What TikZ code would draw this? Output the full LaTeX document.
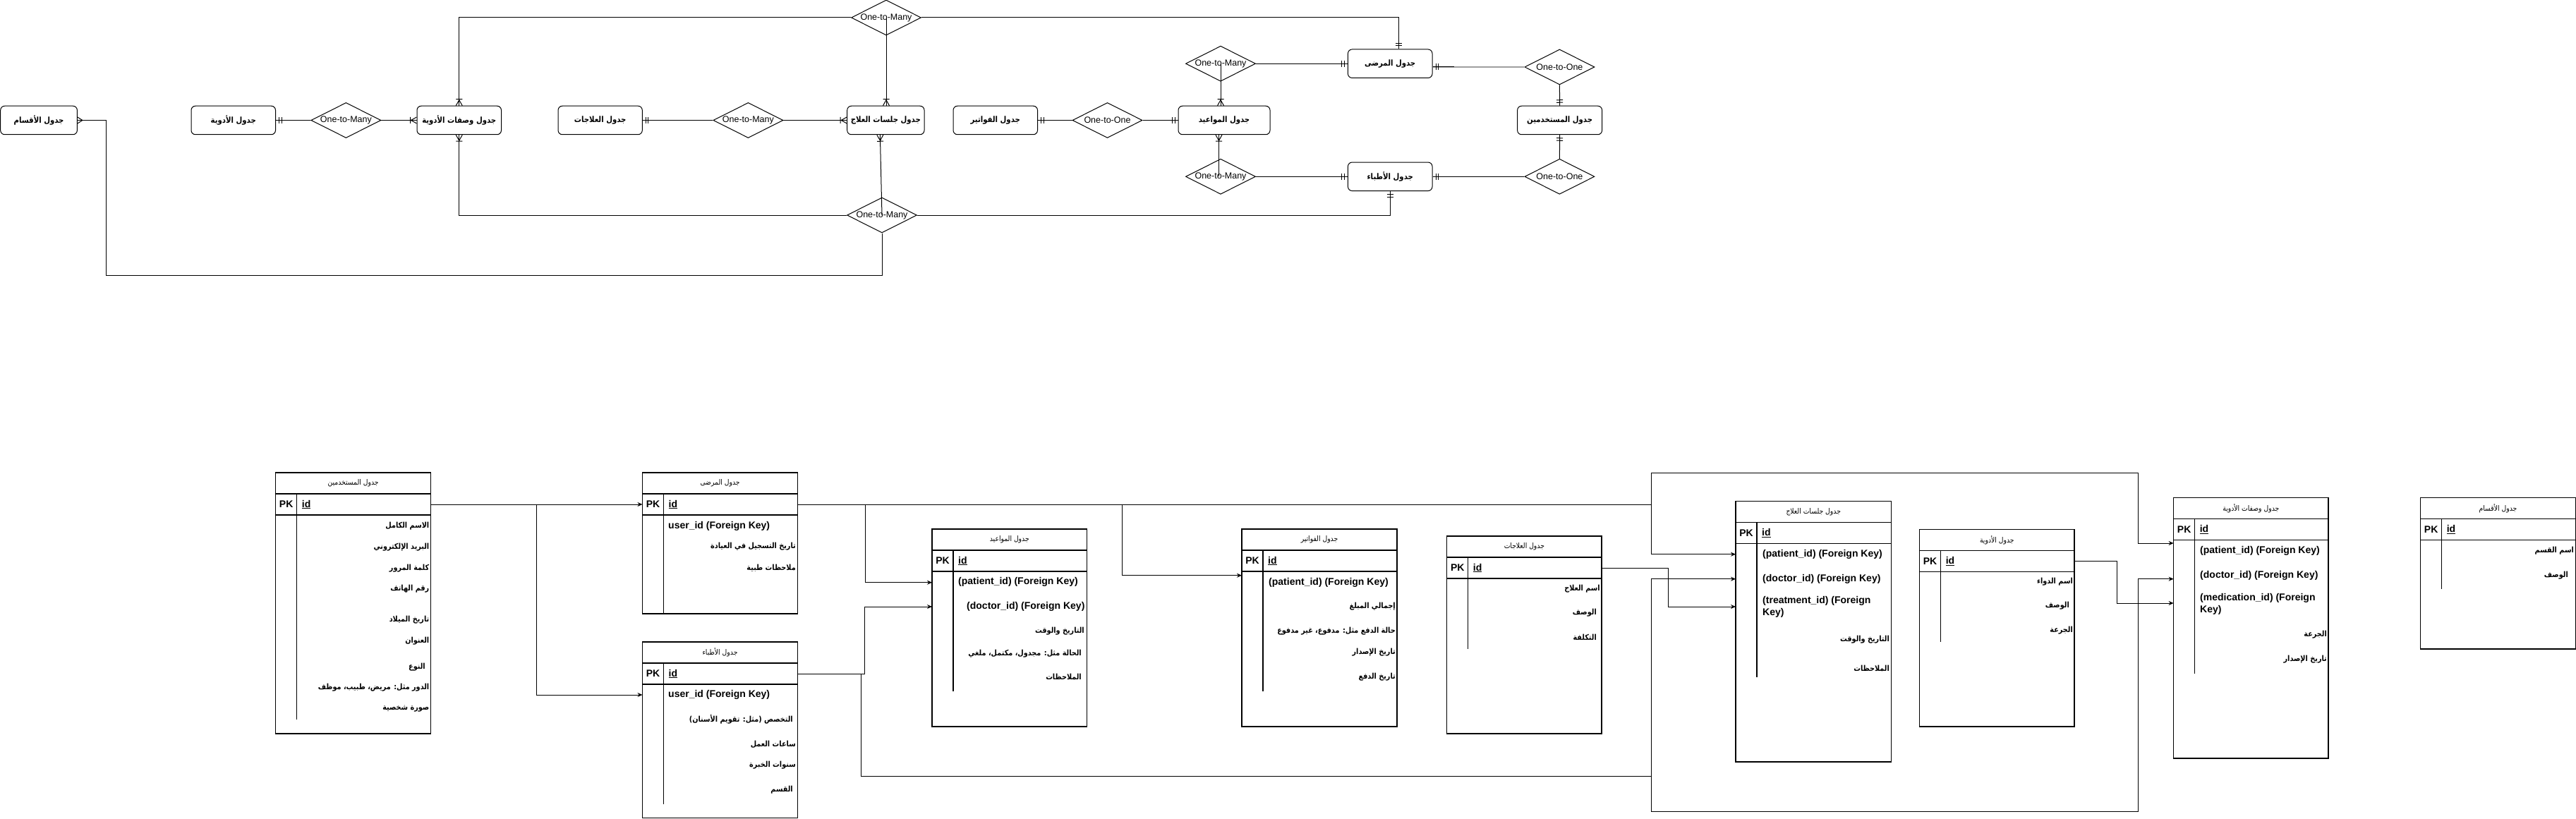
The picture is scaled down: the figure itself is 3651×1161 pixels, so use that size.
\documentclass[tikz,border=0pt]{standalone}
\usepackage{fontspec}
\setmainfont{Liberation Sans}
\newfontfamily\arfont[Script=Arabic,FakeStretch=0.88]{DejaVu Sans}
\TeXXeTstate=1
\usetikzlibrary{shapes.geometric,arrows.meta,calc}
\newcommand{\artxt}[1]{{\arfont #1}}

\pgfdeclarearrow{
  name = ERone,
  parameters = {\the\pgflinewidth},
  setup code = {
    \pgfarrowssettipend{0pt}
    \pgfarrowssetlineend{0pt}
    \pgfarrowssetbackend{-9pt}
    \pgfarrowssetvisualbackend{-9pt}
    \pgfarrowshullpoint{0pt}{4pt}
    \pgfarrowshullpoint{0pt}{-4pt}
    \pgfarrowshullpoint{-9pt}{4pt}
    \pgfarrowshullpoint{-9pt}{-4pt}
  },
  drawing code = {
    \pgfpathmoveto{\pgfqpoint{-4.5pt}{4.5pt}}
    \pgfpathlineto{\pgfqpoint{-4.5pt}{-4.5pt}}
    \pgfpathmoveto{\pgfqpoint{-8pt}{4.5pt}}
    \pgfpathlineto{\pgfqpoint{-8pt}{-4.5pt}}
    \pgfusepathqstroke
  }
}
\pgfdeclarearrow{
  name = ERmany,
  parameters = {\the\pgflinewidth},
  setup code = {
    \pgfarrowssettipend{0pt}
    \pgfarrowssetlineend{0pt}
    \pgfarrowssetbackend{-7pt}
    \pgfarrowssetvisualbackend{-7pt}
    \pgfarrowshullpoint{0pt}{4.5pt}
    \pgfarrowshullpoint{0pt}{-4.5pt}
    \pgfarrowshullpoint{-7pt}{0pt}
  },
  drawing code = {
    \pgfpathmoveto{\pgfqpoint{0pt}{4.5pt}}
    \pgfpathlineto{\pgfqpoint{-7pt}{0pt}}
    \pgfpathlineto{\pgfqpoint{0pt}{-4.5pt}}
    \pgfusepathqstroke
  }
}
\pgfdeclarearrow{
  name = EROneMany,
  parameters = {\the\pgflinewidth},
  setup code = {
    \pgfarrowssettipend{0pt}
    \pgfarrowssetlineend{0pt}
    \pgfarrowssetbackend{-9pt}
    \pgfarrowssetvisualbackend{-9pt}
    \pgfarrowshullpoint{0pt}{4.5pt}
    \pgfarrowshullpoint{0pt}{-4.5pt}
    \pgfarrowshullpoint{-9pt}{4.5pt}
    \pgfarrowshullpoint{-9pt}{-4.5pt}
  },
  drawing code = {
    \pgfpathmoveto{\pgfqpoint{0pt}{4.5pt}}
    \pgfpathlineto{\pgfqpoint{-8pt}{0pt}}
    \pgfpathlineto{\pgfqpoint{0pt}{-4.5pt}}
    \pgfpathmoveto{\pgfqpoint{-9pt}{4.5pt}}
    \pgfpathlineto{\pgfqpoint{-9pt}{-4.5pt}}
    \pgfusepathqstroke
  }
}

\tikzset{
  ebox/.style={draw, rounded corners=6pt, line width=1pt, minimum height=40.5pt, inner sep=0pt,
    fill=white, font=\fontsize{11.5}{13}\selectfont\bfseries},
  rel/.style={draw, diamond, line width=1pt, minimum width=99pt, minimum height=50pt,
    inner sep=0pt, fill=white, font=\fontsize{12.5}{14}\selectfont},
  erl/.style={line width=1pt},
  fk/.style={line width=1pt, -{Stealth[length=7pt,width=6pt]}},
  tabline/.style={line width=1.1pt},
  hdr/.style={inner sep=0pt, font=\fontsize{10.5}{12}\selectfont},
  pkt/.style={inner sep=0pt, font=\fontsize{14}{16}\selectfont\bfseries},
  fkt/.style={inner sep=0pt, anchor=west, align=left, font=\fontsize{14}{17}\selectfont\bfseries},
  art/.style={inner sep=0pt, anchor=east, font=\fontsize{11}{13}\selectfont\bfseries},
}

\newcommand{\ertab}[7]{%
  \draw[tabline] (#2,#3) rectangle (#4,#5);
  \draw[tabline] (#2,#3+30) -- (#4,#3+30);
  \draw[tabline] (#2,#3+60) -- (#4,#3+60);
  \draw[tabline] (#2+30,#3+30) -- (#2+30,#6);
  \node[hdr] (#1) at ({(#2+#4)/2},#3+15) {\artxt{#7}};
  \node[pkt] (#1-pk) at (#2+15,#3+45) {PK};
  \node[pkt,anchor=west] (#1-id) at (#2+37,#3+45) {\underline{id}};
  \coordinate (#1-pkE) at (#4,#3+45);
  \coordinate (#1-pkW) at (#2,#3+45);
}
\newcommand{\arow}[4]{\node[art] (#1) at (#2,#3) {\artxt{#4}};}
\newcommand{\frow}[4]{\node[fkt] (#1) at (#2,#3) {#4};}

\begin{document}
\begin{tikzpicture}[x=1pt,y=-1pt]
\useasboundingbox (0,0) rectangle (3651,1161);

% ---------- upper ER diagram ----------
\node[ebox, minimum width=108.7pt] (aqsam)   at (55.05,170.5)  {\artxt{\beginR جدول الأقسام\endR}};
\node[ebox, minimum width=119.5pt] (adwiya)  at (330.75,170.5) {\artxt{\beginR جدول الأدوية\endR}};
\node[ebox, minimum width=119.5pt] (wasfat)  at (650.75,170.5) {\artxt{\beginR جدول وصفات الأدوية\endR}};
\node[ebox, minimum width=119.3pt] (ilajat)  at (850.65,170.5) {\artxt{\beginR جدول العلاجات\endR}};
\node[ebox, minimum width=109.3pt] (jalasat) at (1255.35,170.5) {\artxt{\beginR جدول جلسات العلاج\endR}};
\node[ebox, minimum width=119.5pt] (fawatir) at (1410.75,170.5) {\artxt{\beginR جدول الفواتير\endR}};
\node[ebox, minimum width=130pt]   (mawaid)  at (1735,170.5)   {\artxt{\beginR جدول المواعيد\endR}};
\node[ebox, minimum width=120pt]   (must)    at (2210.6,170.5) {\artxt{\beginR جدول المستخدمين\endR}};
\node[ebox, minimum width=119.6pt] (marda)   at (1970.2,90.2)  {\artxt{\beginR جدول المرضى\endR}};
\node[ebox, minimum width=119.6pt] (atibba)  at (1970.2,250.3) {\artxt{\beginR جدول الأطباء\endR}};

\node[rel] (d1)   at (490.4,170.5) {\makebox[0pt]{One-to-Many}};
\node[rel] (d2)   at (1060.4,170.5) {\makebox[0pt]{One-to-Many}};
\node[rel] (dtop) at (1256,25)      {\makebox[0pt]{One-to-Many}};
\node[rel] (dbot) at (1250,305)     {\makebox[0pt]{One-to-Many}};
\node[rel] (d3)   at (1569.5,170.5) {\makebox[0pt]{One-to-One}};
\node[rel] (d4)   at (1730,90.2)    {\makebox[0pt]{One-to-Many}};
\node[rel] (d5)   at (1730,250.3)   {\makebox[0pt]{One-to-Many}};
\node[rel] (d6)   at (2210.4,95)    {\makebox[0pt]{One-to-One}};
\node[rel] (d7)   at (2210.4,250.3) {\makebox[0pt]{One-to-One}};

\coordinate (bendA) at (150,390);

\draw[erl,-ERone]     (d1.west) -- (adwiya.east);
\draw[erl,-EROneMany] (d1.east) -- (wasfat.west);
\draw[erl,-ERone]     (d2.west) -- (ilajat.east);
\draw[erl,-EROneMany] (d2.east) -- (jalasat.west);
\draw[erl,-EROneMany] (dtop.west) -| (wasfat.north);
\draw[erl,-EROneMany] (dtop.center) -- (dtop.center |- jalasat.north);
\draw[erl,-ERone]     (dtop.east) -| ($(marda.north)+(12,0)$);
\draw[erl,-EROneMany] (dbot.west) -| (wasfat.south);
\draw[erl,-EROneMany] (dbot.center) -- ($(jalasat.south)+(-8,0)$);
\draw[erl,-ERone]     (dbot.east) -| (atibba.south);
\draw[erl,-ERmany]    (dbot.south) |- (bendA) |- (aqsam.east);
\draw[erl,-ERone]     (d3.west) -- (fawatir.east);
\draw[erl,-ERone]     (d3.east) -- (mawaid.west);
\draw[erl,-ERone]     (d4.east) -- (marda.west);
\draw[erl,-EROneMany] (d4.center) -- (d4.center |- mawaid.north);
\draw[erl,-EROneMany] ($(d5.center)+(-2.5,0)$) -- ($(d5.center |- mawaid.south)+(-2.5,0)$);
\draw[erl,-ERone]     (d5.east) -- (atibba.west);
\draw[line width=2pt, draw=gray!75] (d6.west) -- (d6.west -| marda.east);
\draw[erl,-ERone]     ($(d6.west -| marda.east)+(30,0)$) -- (d6.west -| marda.east);
\draw[erl,-ERone]     (d6.south) -- (must.north);
\draw[erl,-ERone]     (d7.north) -- (must.south);
\draw[erl,-ERone]     (d7.west) -- (atibba.east);

% ---------- tables ----------
\ertab{tmust}{390.7}{670}{610.4}{1040}{1020}{\beginR جدول المستخدمين\endR}
\arow{m1}{608.5}{746}{\beginR الاسم الكامل\endR}
\arow{m2}{608.5}{776}{\beginR البريد الإلكتروني\endR}
\arow{m3}{608.5}{806}{\beginR كلمة المرور\endR}
\arow{m4}{608.5}{835}{\beginR رقم الهاتف\endR}
\arow{m5}{608.5}{879}{\beginR تاريخ الميلاد\endR}
\arow{m6}{608.5}{909}{\beginR العنوان\endR}
\arow{m7}{603}{946}{\beginR النوع\endR}
\arow{m8}{608.5}{975}{\beginR الدور مثل: مريض، طبيب، موظف\endR}
\arow{m9}{608.5}{1005}{\beginR صورة شخصية\endR}

\ertab{tmarda}{910.5}{670}{1130.6}{870}{870}{\beginR جدول المرضى\endR}
\frow{p1}{947}{746}{user\_id (Foreign Key)}
\arow{p2}{1128}{775}{\beginR تاريخ التسجيل في العيادة\endR}
\arow{p3}{1128}{805}{\beginR ملاحظات طبية\endR}

\ertab{tatibba}{910.5}{910}{1130.6}{1159.5}{1140}{\beginR جدول الأطباء\endR}
\frow{a1}{947}{985}{user\_id (Foreign Key)}
\arow{a2}{1124}{1020}{\beginR التخصص (مثل: تقويم الأسنان)\endR}
\arow{a3}{1128}{1055}{\beginR ساعات العمل\endR}
\arow{a4}{1128}{1085}{\beginR سنوات الخبرة\endR}
\arow{a5}{1124}{1120}{\beginR القسم\endR}

\ertab{tmawaid}{1321}{750}{1540.6}{1030}{980}{\beginR جدول المواعيد\endR}
\frow{w1}{1358}{825}{(patient\_id) (Foreign Key)}
\frow{w2}{1370}{860}{(doctor\_id) (Foreign Key)}
\arow{w3}{1537}{895}{\beginR التاريخ والوقت\endR}
\arow{w4}{1533}{927}{\beginR الحالة مثل: مجدول، مكتمل، ملغي\endR}
\arow{w5}{1533}{959}{\beginR الملاحظات\endR}

\ertab{tfawatir}{1760}{750}{1980}{1030}{980}{\beginR جدول الفواتير\endR}
\frow{f1}{1798}{825.7}{(patient\_id) (Foreign Key)}
\arow{f2}{1978}{860}{\beginR إجمالي المبلغ\endR}
\arow{f3}{1978}{895}{\beginR حالة الدفع مثل: مدفوع، غير مدفوع\endR}
\arow{f4}{1978}{925}{\beginR تاريخ الإصدار\endR}
\arow{f5}{1978}{960}{\beginR تاريخ الدفع\endR}

\ertab{tilajat}{2050.7}{760}{2270}{1040}{920}{\beginR جدول العلاجات\endR}
\arow{i1}{2268}{835}{\beginR اسم العلاج\endR}
\arow{i2}{2263}{869}{\beginR الوصف\endR}
\arow{i3}{2263}{903}{\beginR التكلفة\endR}

\ertab{tjalasat}{2460}{710.7}{2680.4}{1080}{960}{\beginR جدول جلسات العلاج\endR}
\frow{j1}{2498}{785.7}{(patient\_id) (Foreign Key)}
\frow{j2}{2498}{820.7}{(doctor\_id) (Foreign Key)}
\frow{j3}{2498}{860.5}{(treatment\_id) (Foreign\\Key)}
\arow{j4}{2678}{906.7}{\beginR التاريخ والوقت\endR}
\arow{j5}{2678}{947.7}{\beginR الملاحظات\endR}

\ertab{tadwiya}{2720.6}{750.7}{2940}{1030}{910}{\beginR جدول الأدوية\endR}
\arow{o1}{2938}{825}{\beginR اسم الدواء\endR}
\arow{o2}{2933}{859}{\beginR الوصف\endR}
\arow{o3}{2938}{894}{\beginR الجرعة\endR}

\ertab{twasfat}{3080.6}{705.7}{3300}{1075}{955}{\beginR جدول وصفات الأدوية\endR}
\frow{v1}{3118}{780.7}{(patient\_id) (Foreign Key)}
\frow{v2}{3118}{815.7}{(doctor\_id) (Foreign Key)}
\frow{v3}{3118}{856}{(medication\_id) (Foreign\\Key)}
\arow{v4}{3298}{900}{\beginR الجرعة\endR}
\arow{v5}{3298}{935}{\beginR تاريخ الإصدار\endR}

\ertab{taqsam}{3430.6}{705.7}{3650.4}{920}{835}{\beginR جدول الأقسام\endR}
\arow{q1}{3648}{780.7}{\beginR اسم القسم\endR}
\arow{q2}{3640}{815.7}{\beginR الوصف\endR}

% ---------- foreign key connectors ----------
\coordinate (atibba-u)  at (910.5,985);
\coordinate (mawaid-p)  at (1321,825.7);
\coordinate (mawaid-d)  at (1321,860);
\coordinate (fawatir-p) at (1760,815.7);
\coordinate (jalasat-p) at (2460,785.7);
\coordinate (jalasat-d) at (2460,820.7);
\coordinate (jalasat-t) at (2460,860);
\coordinate (wasfat-p)  at (3080.6,770);
\coordinate (wasfat-d)  at (3080.6,820.7);
\coordinate (wasfat-m)  at (3080.6,855);
\coordinate (busA) at (2340,670.7);
\coordinate (busB) at (3030.5,670.7);
\coordinate (busC) at (2340,1100);
\coordinate (busD) at (2340,1150);
\coordinate (busE) at (3030.5,1150);

\draw[fk] (tmust-pkE) -- (tmarda-pkW);
\draw[fk] (tmust-pkE) -- ++(149.6,0) |- (atibba-u);
\draw[fk] (tmarda-pkE) -- ++(95.4,0) |- (mawaid-p);
\draw[fk] (tmarda-pkE) -- ++(459.4,0) |- (fawatir-p);
\draw[fk] (tmarda-pkE) -- ++(1209.4,0) |- (jalasat-p);
\draw[fk] (tmarda-pkE) -| (busA) -- (busB) |- (wasfat-p);
\draw[fk] (tatibba-pkE) -- ++(94.8,0) |- (mawaid-d);
\draw[fk] (tatibba-pkE) -- ++(90.1,0) |- (busC) |- (jalasat-d);
\draw[fk] (busC) -- (busD) -- (busE) |- (wasfat-d);
\draw[fk] (tilajat-pkE) -- ++(94.8,0) |- (jalasat-t);
\draw[fk] (tadwiya-pkE) -- ++(60,0) |- (wasfat-m);
\end{tikzpicture}
\end{document}
